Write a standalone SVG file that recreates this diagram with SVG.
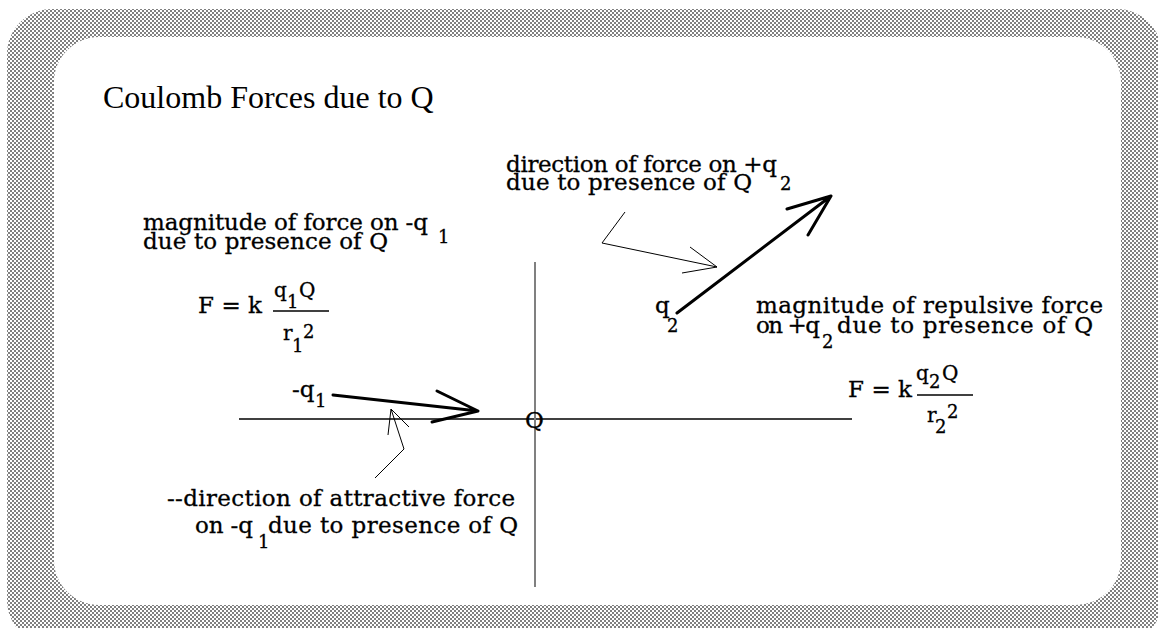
<svg xmlns="http://www.w3.org/2000/svg" width="1158" height="628" viewBox="0 0 1158 628">
<style>
.t{font-family:"DejaVu Serif","Liberation Serif",serif;font-size:23px;fill:#000;stroke:#000;stroke-width:0.3}
.s{font-family:"DejaVu Serif","Liberation Serif",serif;font-size:18px;fill:#000;stroke:#000;stroke-width:0.3}
.f{font-family:"DejaVu Serif","Liberation Serif",serif;font-size:20px;fill:#000;stroke:#000;stroke-width:0.3}
.title{font-family:"Liberation Serif","Times New Roman",serif;font-size:32px;fill:#000}
.thick{stroke:#000;stroke-width:3;fill:none;stroke-linecap:round;stroke-linejoin:round}
.thin{stroke:#000;stroke-width:1;fill:none}
.bar{stroke:#000;stroke-width:1.3}
</style>
<defs>
<pattern id="chk" width="4" height="4" patternUnits="userSpaceOnUse">
<rect width="4" height="4" fill="#ffffff"/>
<rect width="2" height="2" fill="#808080"/>
<rect x="2" y="2" width="2" height="2" fill="#808080"/>
</pattern>
</defs>
<g id="frame">
<rect x="7" y="9" width="1155" height="636" rx="45" ry="45" fill="url(#chk)"/>
<rect x="54" y="37" width="1067" height="568" rx="45" ry="45" fill="#ffffff"/>
</g>
<g id="title"><text class="title" x="103" y="108">Coulomb Forces due to Q</text></g>
<g id="connectors">
<line x1="239" y1="419" x2="852" y2="419" stroke="#000" stroke-width="1.3"/>
<line x1="535" y1="262" x2="535" y2="587" stroke="#808080" stroke-width="2"/>
<path class="thick" d="M333 395 L478 411 M437 391 L478 411 L432 422"/>
<path class="thick" d="M677 313 L831 196 M787 209 L831 196 L808 235"/>
<path class="thin" d="M375 478 L404 449 L391 409 M388 435 L391 409 L409 427"/>
<path class="thin" d="M625 212 L602 243 L717 267 M690 247 L717 267 L682 273"/>
</g>
<g id="label-q1-magnitude">
<text class="t" x="143" y="230" textLength="285" lengthAdjust="spacing">magnitude of force on -q</text>
<text class="s" x="438" y="243">1</text>
<text class="t" x="143" y="249" textLength="245" lengthAdjust="spacing">due to presence of Q</text>
</g>
<g id="formula-q1">
<text class="t" x="198" y="313" textLength="64" lengthAdjust="spacing">F = k</text>
<text class="f" x="274" y="297">q</text>
<text class="s" x="287" y="308">1</text>
<text class="f" x="299" y="297">Q</text>
<line class="bar" x1="273" y1="311" x2="329" y2="311"/>
<text class="f" x="283" y="340">r</text>
<text class="s" x="292" y="352">1</text>
<text class="s" x="303" y="338">2</text>
</g>
<g id="charge-q1">
<text class="t" x="292" y="397">-q</text>
<text class="s" x="315" y="407">1</text>
</g>
<g id="charge-Q"><text class="t" x="525" y="428">Q</text></g>
<g id="charge-q2">
<text class="t" x="655" y="313">q</text>
<text class="s" x="667" y="332">2</text>
</g>
<g id="label-q2-direction">
<text class="t" x="506" y="172" textLength="271" lengthAdjust="spacing">direction of force on +q</text>
<text class="s" x="780" y="190">2</text>
<text class="t" x="506" y="190" textLength="246" lengthAdjust="spacing">due to presence of Q</text>
</g>
<g id="label-q2-magnitude">
<text class="t" x="756" y="313" textLength="347" lengthAdjust="spacing">magnitude of repulsive force</text>
<text class="t" x="756" y="333" textLength="64" lengthAdjust="spacing">on +q</text>
<text class="s" x="822" y="348">2</text>
<text class="t" x="837" y="333" textLength="256" lengthAdjust="spacing">due to presence of Q</text>
</g>
<g id="formula-q2">
<text class="t" x="848" y="397" textLength="64" lengthAdjust="spacing">F = k</text>
<text class="f" x="916" y="380">q</text>
<text class="s" x="929" y="388">2</text>
<text class="f" x="942" y="380">Q</text>
<line class="bar" x1="917" y1="395" x2="973" y2="395"/>
<text class="f" x="927" y="422">r</text>
<text class="s" x="935" y="433">2</text>
<text class="s" x="947" y="418">2</text>
</g>
<g id="label-q1-direction">
<text class="t" x="167" y="506" textLength="348" lengthAdjust="spacing">--direction of attractive force</text>
<text class="t" x="195" y="533" textLength="58" lengthAdjust="spacing">on -q</text>
<text class="s" x="258" y="548">1</text>
<text class="t" x="268" y="533" textLength="250" lengthAdjust="spacing">due to presence of Q</text>
</g>
</svg>
